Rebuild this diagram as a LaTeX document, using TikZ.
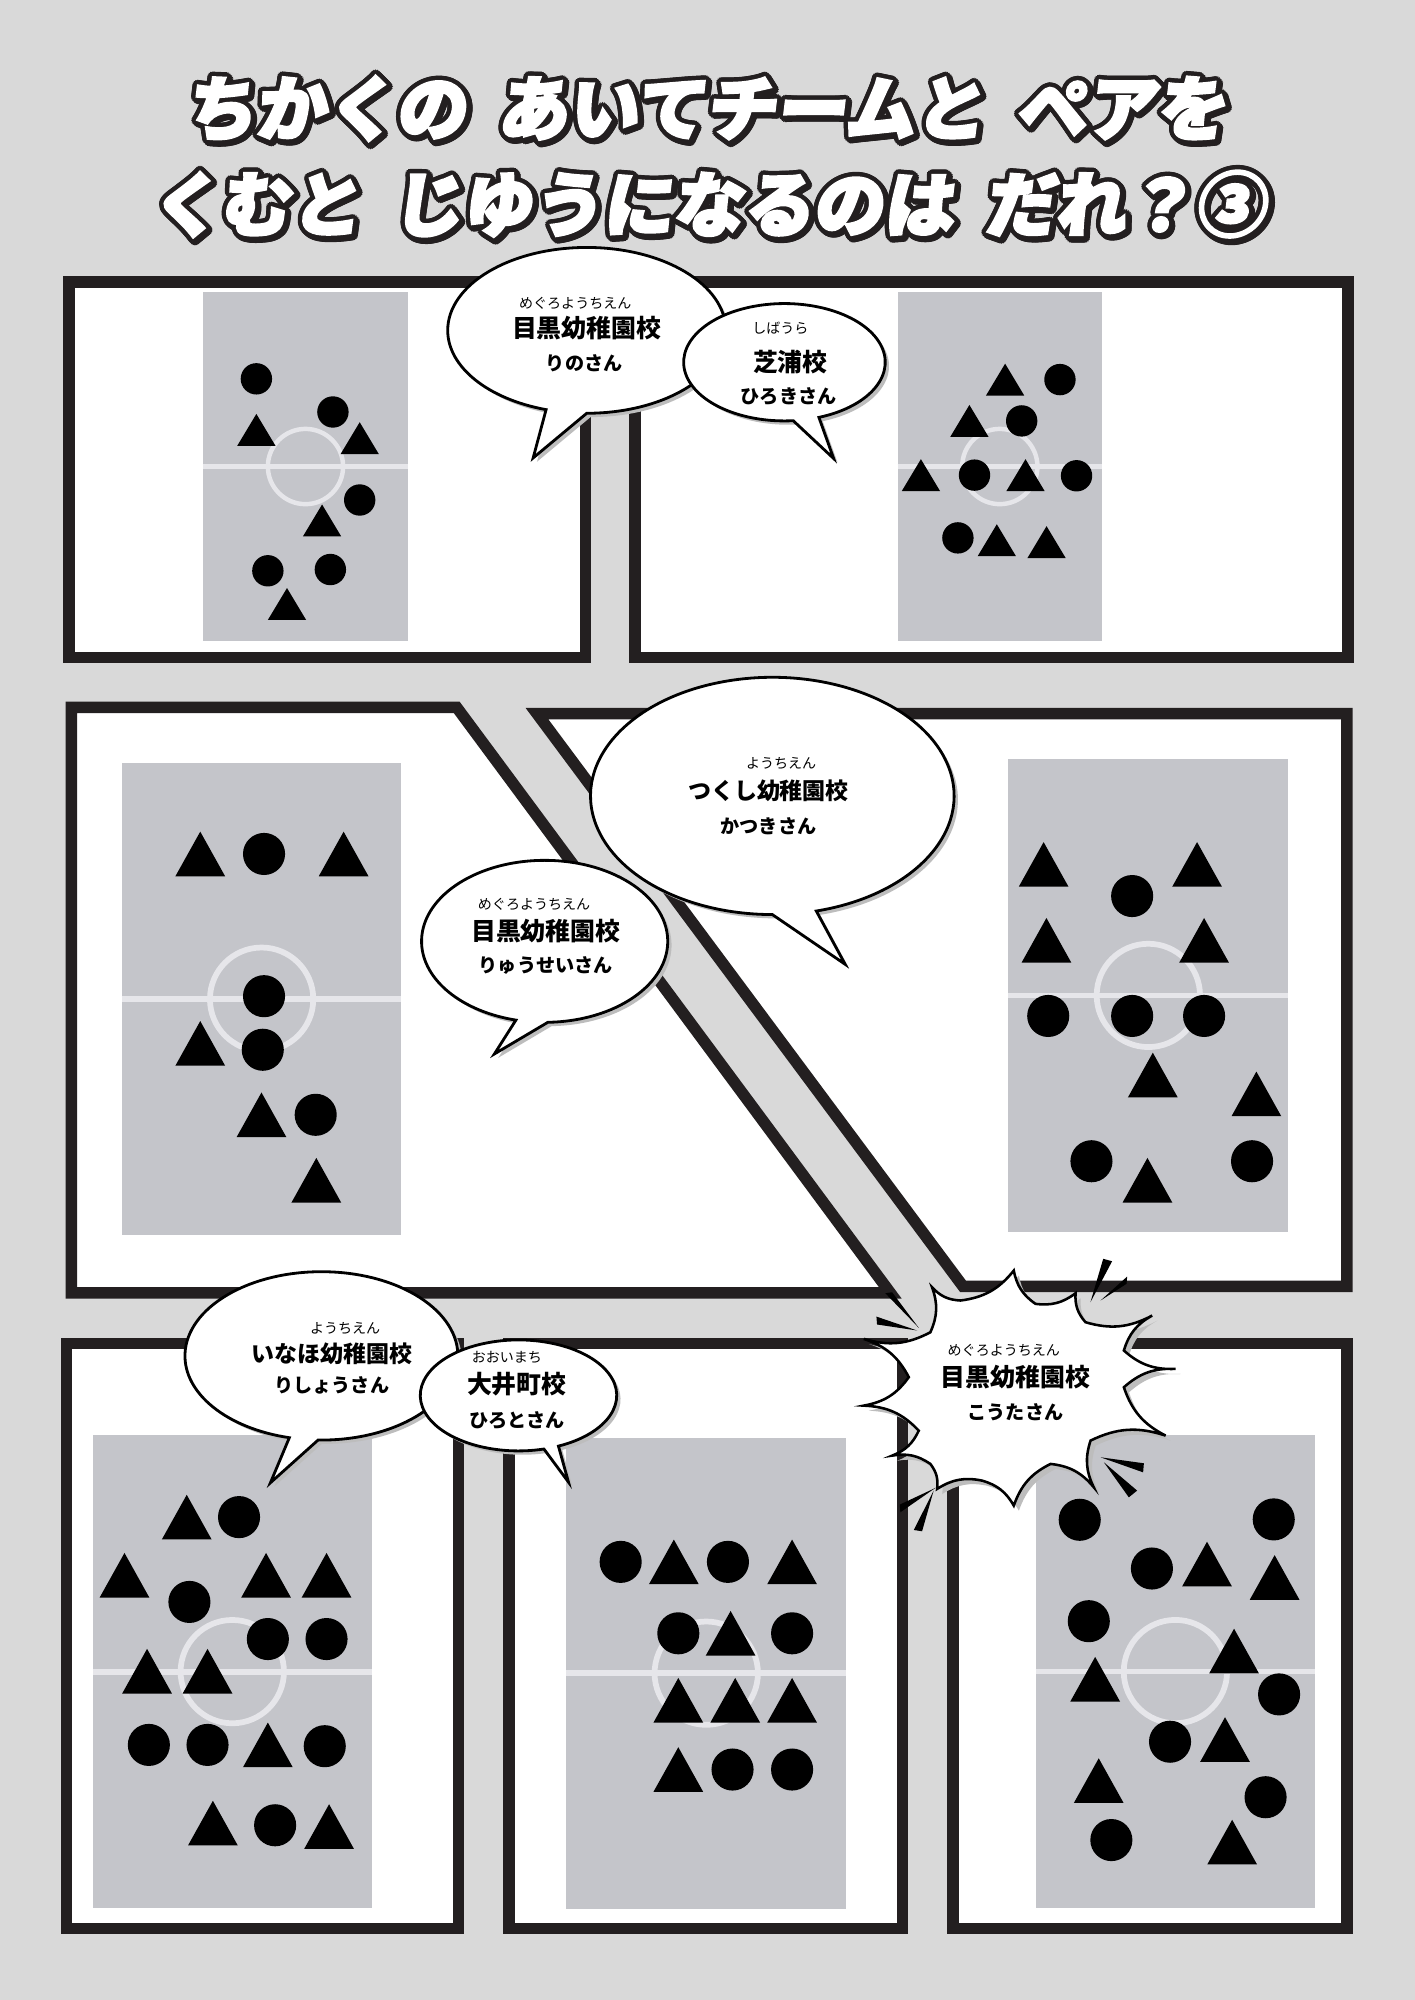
\documentclass[tikz,border=0pt]{standalone}
\usepackage{fontspec}
\newfontfamily\jp{Noto Sans CJK JP}
\newfontfamily\ttlfont{Noto Sans CJK JP}[BoldFeatures={FakeSlant=0.12, FakeBold=4}]
\definecolor{pagegray}{HTML}{D9D9D9}
\definecolor{fieldgray}{HTML}{C4C5CA}
\definecolor{linegray}{HTML}{E6E6EA}
\definecolor{framecol}{HTML}{231F20}
\definecolor{shadowgray}{HTML}{BDBDBD}
\newcommand{\ttlA}{ちかくの\hspace{.45em}あいてチームと\hspace{.45em}ペアを}
\newcommand{\ttlB}{くむと\hspace{.45em}じゆうになるのは\hspace{.45em}だれ？③}
% field: x1 y1 x2 y2 radius linewidth
\newcommand{\pitch}[6]{%
  \fill[fieldgray] (#1,#2) rectangle (#3,#4);
  \draw[linegray, line width=#6pt] (#1,{(#2+#4)/2}) -- (#3,{(#2+#4)/2});
  \draw[linegray, line width=#6pt] ({(#1+#3)/2},{(#2+#4)/2}) circle (#5pt);}
\newcommand{\trismall}[2]{\fill (#1,#2) ++(0,-12.5) -- ++(15,25) -- ++(-30,0) -- cycle;}
\newcommand{\trilarge}[2]{\fill (#1,#2) ++(0,-17.5) -- ++(19.5,35) -- ++(-39,0) -- cycle;}
% bubble: cx cy rx ry start end tipx tipy
\newcommand{\bubble}[8]{%
  \fill[shadowgray, shift={(3,3)}] (#1,#2) ++(#5:#3pt and #4pt) arc[start angle=#5, end angle=#6, x radius=#3pt, y radius=#4pt] -- (#7,#8) -- cycle;
  \filldraw[fill=white, draw=black, line width=2.2pt] (#1,#2) ++(#5:#3pt and #4pt) arc[start angle=#5, end angle=#6, x radius=#3pt, y radius=#4pt] -- (#7,#8) -- cycle;}
\newcommand{\burstpath}{(794.8,996.1) to[bend right=22] (811.8,1022.2) to[bend right=22] (843.2,1013.9) to[bend right=22] (851,1036.6) to[bend right=22] (903.3,1031.4) to[bend right=22] (881.1,1058.8) to[bend right=22] (921.6,1073.2) to[bend right=22] (881.1,1087.6) to[bend right=22] (913.8,1125.5) to[bend right=22] (855,1129.4) to[bend right=22] (857.5,1166) to[bend right=22] (823.6,1147.7) to[bend right=22] (794.8,1180.4) to[bend right=22] (770,1160.8) to[bend right=22] (734.7,1167.3) to[bend right=22] (729.4,1147.7) to[bend right=22] (699.4,1141.2) to[bend right=22] (720.3,1121.6) to[bend right=22] (677.2,1102) to[bend right=22] (712.5,1079.7) to[bend right=22] (677.2,1049.7) to[bend right=22] (729.4,1044.5) to[bend right=22] (730.7,1009.2) to[bend right=22] (753,1019.6) to[bend right=22] (794.8,996.1) -- cycle}
\begin{document}
\begin{tikzpicture}[x=1pt,y=-1pt,
  frame/.style={fill=white, draw=framecol, line width=9pt},
  ruby/.style={inner sep=0pt, font=\jp\fontsize{11}{12}\selectfont},
  school/.style={inner sep=0pt, font=\jp\bfseries\fontsize{19.5}{22}\selectfont},
  pupil/.style={inner sep=0pt, font=\jp\bfseries\fontsize{15}{17}\selectfont},
  ttl/.style={inner sep=0pt, font=\ttlfont\bfseries\fontsize{55}{60}\selectfont}]
\useasboundingbox (0,0) rectangle (1109,1568);
\fill[pagegray] (0,0) rectangle (1109,1568);

% top row
\filldraw[frame] (54,221) rectangle (459,515.5);
\filldraw[frame] (498,221) rectangle (1057,515.5);
\pitch{159}{229}{320}{502.5}{29.5}{3.5}
\pitch{703.7}{229}{864}{502.5}{29.5}{3.5}
\foreach \x/\y in {201/297,261/323,282/392,210/447.5,259/446.5,831/297.6,801/330,764/372.5,844/373,751/421.7} \fill (\x,\y) circle (12.3pt);
\foreach \x/\y in {201/337,282/343.5,252.5/408,225/473.5,788/297.6,760/330,722/372.5,804/372.5,781.5/423.5,820.5/425} {\trismall{\x}{\y}}

% middle row
\filldraw[frame] (56,554.5) -- (358,554.5) -- (698,1013.6) -- (56,1013.6) -- cycle;
\filldraw[frame] (421,559.5) -- (1056,559.5) -- (1056,1008.5) -- (755,1008.5) -- cycle;
\pitch{95.5}{598.5}{314.7}{968.2}{40.5}{4.5}
\pitch{790.6}{595.2}{1010}{965.6}{40.5}{4.5}
\foreach \x/\y in {207/669.5,207/781,206/823,247.5/874,887.6/702.5,821.8/796.5,887.6/796.5,944/796.5,855.7/910.4,981.6/910.4} \fill (\x,\y) circle (16.5pt);
\foreach \x/\y in {157/669.5,269.4/669.5,157/818,205/874,248/925.3,818.2/677.7,938.5/677.7,820.4/737.2,944/737.2,903.8/842.8,985/857.6,899.6/925.3} {\trilarge{\x}{\y}}

% bottom row
\filldraw[frame] (52,1053.4) rectangle (359.6,1512);
\filldraw[frame] (399,1053.4) rectangle (707.6,1512);
\filldraw[frame] (747,1053.4) rectangle (1056,1512);
\pitch{72.8}{1125.3}{291.4}{1495.8}{40.5}{4.5}
\pitch{444}{1127}{663.4}{1496.5}{40.5}{4.5}
\pitch{811.9}{1125}{1031.1}{1496}{40.5}{4.5}
\foreach \x/\y in {187.4/1189.4,148.5/1255.9,210/1285,256/1285,116.7/1368,162.7/1368,254.6/1369,215.7/1431,
  486.6/1224.5,570.7/1224.5,531.8/1280.5,621/1280.5,574.3/1387.3,621/1387.3,
  846.5/1191.5,998.6/1191.2,903.1/1229.7,853.6/1271,1002.8/1328.4,917.3/1365.5,992.2/1409,871.3/1442.6} \fill (\x,\y) circle (16.5pt);
\foreach \x/\y in {146.4/1189.4,97.6/1235,208.6/1235,256/1235,115.3/1310.2,162.7/1310.2,210/1368,166.9/1429.3,258/1432,
  528.3/1224.5,621/1224.5,572.8/1280.5,531.8/1333,576.4/1333,621/1333,531.8/1387.3,
  946.3/1226.2,999.3/1236.7,967.5/1294.4,858.6/1316.5,960.4/1363.8,861.4/1396,966/1444.2} {\trilarge{\x}{\y}}

% speech bubbles
\bubble{460}{259}{109}{65}{-90}{253}{418}{359}
\node[ruby] (b1r) at (451,238) {めぐろようちえん};
\node[school] (b1s) at (460,257.5) {目黒幼稚園校};
\node[pupil] (b1n) at (458,285) {りのさん};
\bubble{615}{284}{79}{46}{-70}{275}{653.6}{359.5}
\node[ruby] (b2r) at (611.8,257.5) {しばうら};
\node[school] (b2s) at (619.6,283.7) {芝浦校};
\node[pupil] (b2n) at (618.3,311) {ひろきさん};
\bubble{427}{738}{96.5}{63.5}{-88.5}{256.5}{387.6}{826.3}
\node[ruby] (b4r) at (418.7,709) {めぐろようちえん};
\node[school] (b4s) at (427.9,730) {目黒幼稚園校};
\node[pupil] (b4n) at (427.9,757) {りゅうせいさん};
\bubble{605.5}{624}{142.5}{93}{-76}{270}{662.6}{756}
\node[ruby] (b3r) at (612.4,598.5) {ようちえん};
\node[school, font=\jp\bfseries\fontsize{18}{20}\selectfont] (b3s) at (602.5,620) {つくし幼稚園校};
\node[pupil] (b3n) at (602.5,647.4) {かつきさん};

% burst
\fill (854.9,1020.9) -- (864.9,986.9) -- (871.9,988.8) -- cycle;
\fill (862.8,1019.6) -- (883.7,1000.8) -- (883.2,1006.5) -- cycle;
\fill (719,1043.1) -- (687.1,1032.2) -- (687.6,1038.4) -- cycle;
\fill (720.3,1041) -- (694.1,1013.9) -- (699.4,1013.1) -- cycle;
\fill (733.4,1166.5) -- (705.4,1179.6) -- (705.9,1185.6) -- cycle;
\fill (732,1168.6) -- (716.4,1199.5) -- (722.9,1200.5) -- cycle;
\fill (862.8,1142.5) -- (896.8,1147.2) -- (896.2,1154.3) -- cycle;
\fill (865.4,1146.4) -- (891.5,1168.6) -- (885,1173.9) -- cycle;
\fill[shadowgray, shift={(4,4)}] \burstpath;
\filldraw[fill=white, draw=black, line width=2pt] \burstpath;
\node[ruby] (b7r) at (787,1058.8) {めぐろようちえん};
\node[school] (b7s) at (796.1,1079.7) {目黒幼稚園校};
\node[pupil] (b7n) at (796.1,1107.2) {こうたさん};

\bubble{252}{1063}{107}{66}{-91.4}{256.4}{212}{1162.5}
\node[ruby] (b5r) at (270.6,1041.8) {ようちえん};
\node[school, font=\jp\bfseries\fontsize{18}{20}\selectfont] (b5s) at (260.1,1061.4) {いなほ幼稚園校};
\node[pupil] (b5n) at (260.1,1086.3) {りしょうさん};
\bubble{406.5}{1094}{77}{43.5}{-66}{285}{445.7}{1162}
\node[ruby] (b6r) at (397.4,1064) {おおいまち};
\node[school] (b6s) at (405.2,1085) {大井町校};
\node[pupil] (b6n) at (405.2,1113.7) {ひろとさん};

% title
\foreach \a [count=\i] in {0,22.5,...,337.5}{
  \node[ttl, text=framecol, shift={(\a:3.5pt)}, xshift=1.5pt, yshift=-1.5pt] (tAs\i) at (553.5,85) {\ttlA};
  \node[ttl, text=framecol, shift={(\a:3.5pt)}, xshift=1.5pt, yshift=-1.5pt] (tBs\i) at (555,160) {\ttlB};
  \node[ttl, text=framecol, shift={(\a:3.5pt)}] (tAo\i) at (553.5,85) {\ttlA};
  \node[ttl, text=framecol, shift={(\a:3.5pt)}] (tBo\i) at (555,160) {\ttlB};
}
\node[ttl, text=white] (tA) at (553.5,85) {\ttlA};
\node[ttl, text=white] (tB) at (555,160) {\ttlB};
\end{tikzpicture}
\end{document}
